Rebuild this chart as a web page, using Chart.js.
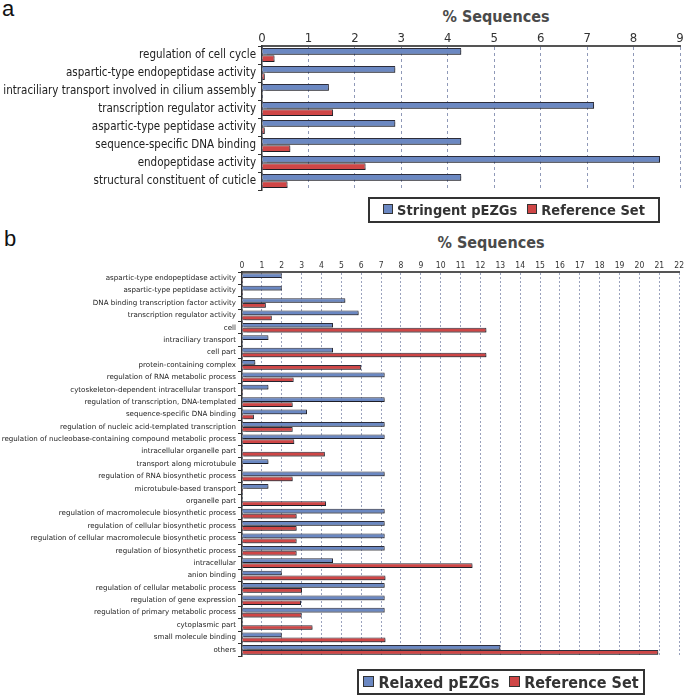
<!DOCTYPE html>
<html lang="en">
<head>
    <meta charset="UTF-8">
    <title>% Sequences - pEZGs vs Reference Set</title>
    <script src="https://cdn.jsdelivr.net/npm/chart.js"></script>
    <style>
        body {
            margin: 0;
            width: 685px;
            height: 695px;
            position: relative;
            background: #fff;
            overflow: hidden;
            font-family: "DejaVu Sans Condensed", "DejaVu Sans", sans-serif;
        }
        canvas { position: absolute; left: 0; }
        #chartA { top: 0; }
        #chartB { top: 228px; }
        .tag {
            position: absolute;
            font-family: "Liberation Sans", Arial, sans-serif;
            font-size: 22px;
            color: #111;
        }
        .axisTitle {
            position: absolute;
            font-weight: bold;
            font-size: 16px;
            color: #4a4a4a;
            transform: translateX(-50%);
            white-space: nowrap;
        }
        .legend {
            position: absolute;
            box-sizing: border-box;
            border: 2px solid #333;
            display: flex;
            align-items: center;
            justify-content: center;
            gap: 10px;
            font-weight: bold;
            color: #333;
            white-space: nowrap;
        }
        .legend .sw {
            display: inline-block;
            width: 8px;
            height: 8px;
            border: 1px solid #333;
            margin-right: 4px;
            vertical-align: 1px;
        }
        #legendB .sw { width: 9px; height: 9px; }
    </style>
</head>
<body>
    <div class="tag" style="left:2px; top:-4px;">a</div>
    <div class="tag" style="left:4px; top:226px;">b</div>
    <div class="axisTitle" style="left:496px; top:7px;">% Sequences</div>
    <div class="axisTitle" style="left:491px; top:233px;">% Sequences</div>

    <canvas id="chartA" width="685" height="228"></canvas>
    <canvas id="chartB" width="685" height="467"></canvas>

    <div class="legend" id="legendA" style="left:368px; top:197px; width:292px; height:26px; font-size:14.5px;"></div>
    <div class="legend" id="legendB" style="left:357px; top:669px; width:288px; height:26px; font-size:16px;"></div>

    <script>
        // panel a - stringent set
        const catsA = [
            'regulation of cell cycle',
            'aspartic-type endopeptidase activity',
            'intraciliary transport involved in cilium assembly',
            'transcription regulator activity',
            'aspartic-type peptidase activity',
            'sequence-specific DNA binding',
            'endopeptidase activity',
            'structural constituent of cuticle'
        ];
        const stringentA = [4.29, 2.87, 1.44, 7.15, 2.87, 4.29, 8.57, 4.29];
        const referenceA = [0.27, 0.06, 0, 1.53, 0.06, 0.61, 2.23, 0.55];
        const ticksA = [0, 1, 2, 3, 4, 5, 6, 7, 8, 9];

        // panel b - relaxed set
        const catsB = [
            'aspartic-type endopeptidase activity',
            'aspartic-type peptidase activity',
            'DNA binding transcription factor activity',
            'transcription regulator activity',
            'cell',
            'intraciliary transport',
            'cell part',
            'protein-containing complex',
            'regulation of RNA metabolic process',
            'cytoskeleton-dependent intracellular transport',
            'regulation of transcription, DNA-templated',
            'sequence-specific DNA binding',
            'regulation of nucleic acid-templated transcription',
            'regulation of nucleobase-containing compound metabolic process',
            'intracellular organelle part',
            'transport along microtubule',
            'regulation of RNA biosynthetic process',
            'microtubule-based transport',
            'organelle part',
            'regulation of macromolecule biosynthetic process',
            'regulation of cellular biosynthetic process',
            'regulation of cellular macromolecule biosynthetic process',
            'regulation of biosynthetic process',
            'intracellular',
            'anion binding',
            'regulation of cellular metabolic process',
            'regulation of gene expression',
            'regulation of primary metabolic process',
            'cytoplasmic part',
            'small molecule binding',
            'others'
        ];
        const relaxedB = [2.0, 2.0, 5.2, 5.87, 4.58, 1.33, 4.58, 0.67, 7.18, 1.33,
                          7.18, 3.27, 7.18, 7.18, 0, 1.33, 7.18, 1.33, 0, 7.18,
                          7.18, 7.18, 7.18, 4.58, 2.0, 7.18, 7.18, 7.18, 0, 2.0, 13.0];
        const referenceB = [0.05, 0.05, 1.2, 1.5, 12.3, 0.03, 12.3, 6.0, 2.6, 0.05,
                            2.55, 0.6, 2.55, 2.63, 4.17, 0.05, 2.55, 0.05, 4.23, 2.75,
                            2.75, 2.75, 2.75, 11.6, 7.22, 3.02, 2.97, 3.0, 3.55, 7.22, 20.95];
        const ticksB = [...Array(23).keys()];

        const BLUE = '#6b88c2';
        const RED = '#cf4646';

        // soft grey drop shadow under the bars
        const barShadow = {
            id: 'barShadow',
            beforeDatasetsDraw(chart) {
                const c = chart.ctx;
                c.save();
                c.shadowColor = 'rgba(0,0,0,0.35)';
                c.shadowOffsetX = 1.5;
                c.shadowOffsetY = 1.5;
                c.shadowBlur = 1;
            },
            afterDatasetsDraw(chart) {
                chart.ctx.restore();
            }
        };

        function makeChart(id, cats, s1, s2, names, opt) {
            return new Chart(document.getElementById(id), {
                type: 'bar',
                data: {
                    labels: cats,
                    datasets: [
                        { label: names[0], data: s1, backgroundColor: BLUE, borderColor: '#2d2d3a', borderWidth: 1 },
                        { label: names[1], data: s2, backgroundColor: RED, borderColor: '#2d2d3a', borderWidth: 1 }
                    ]
                },
                options: {
                    indexAxis: 'y',
                    responsive: false,
                    animation: false,
                    categoryPercentage: 0.8,
                    barPercentage: 0.95,
                    layout: { padding: opt.padding },
                    plugins: { legend: { display: false }, tooltip: { enabled: false } },
                    scales: {
                        x: {
                            position: 'top',
                            min: 0,
                            max: opt.max,
                            afterBuildTicks(s) { s.ticks = opt.ticks.map(v => ({ value: v })); },
                            afterFit(s) { s.height = opt.top; },
                            border: { display: true, color: '#555', width: 2, dash: opt.dash },
                            grid: { color: opt.gridColor, drawTicks: false },
                            ticks: {
                                padding: opt.tickPad,
                                color: '#333',
                                font: { family: 'DejaVu Sans Condensed', size: opt.tickSize }
                            }
                        },
                        y: {
                            afterFit(s) { s.width = opt.left; },
                            border: { display: true, color: '#333', width: 1.5 },
                            grid: { drawOnChartArea: false, drawTicks: true, tickLength: 4, color: '#333', offset: true },
                            ticks: {
                                padding: 2,
                                color: '#222',
                                autoSkip: false,
                                font: { family: opt.labelFont, size: opt.labelSize }
                            }
                        }
                    }
                },
                plugins: [barShadow]
            });
        }

        const chartA = makeChart('chartA', catsA, stringentA, referenceA,
            ['Stringent pEZGs', 'Reference Set'],
            { max: 9, ticks: ticksA, top: 46, left: 262, padding: { top: 0, left: 0, right: 5, bottom: 38 },
              tickSize: 13, tickPad: 0, labelFont: 'DejaVu Sans Condensed', labelSize: 11.5,
              dash: [3, 3], gridColor: '#8f99b8' });

        const chartB = makeChart('chartB', catsB, relaxedB, referenceB,
            ['Relaxed pEZGs', 'Reference Set'],
            { max: 22, ticks: ticksB, top: 44, left: 242, padding: { top: 0, left: 0, right: 4, bottom: 39 },
              tickSize: 8.5, tickPad: 1, labelFont: 'DejaVu Sans', labelSize: 7.1,
              dash: [2, 2], gridColor: '#9aa2bd' });

        // legends built from the dataset labels and colours
        function fillLegend(el, chart) {
            el.innerHTML = chart.data.datasets.map(d =>
                '<span><span class="sw" style="background:' + d.backgroundColor + '"></span>' + d.label + '</span>'
            ).join('');
        }
        fillLegend(document.getElementById('legendA'), chartA);
        fillLegend(document.getElementById('legendB'), chartB);
    </script>
</body>
</html>
